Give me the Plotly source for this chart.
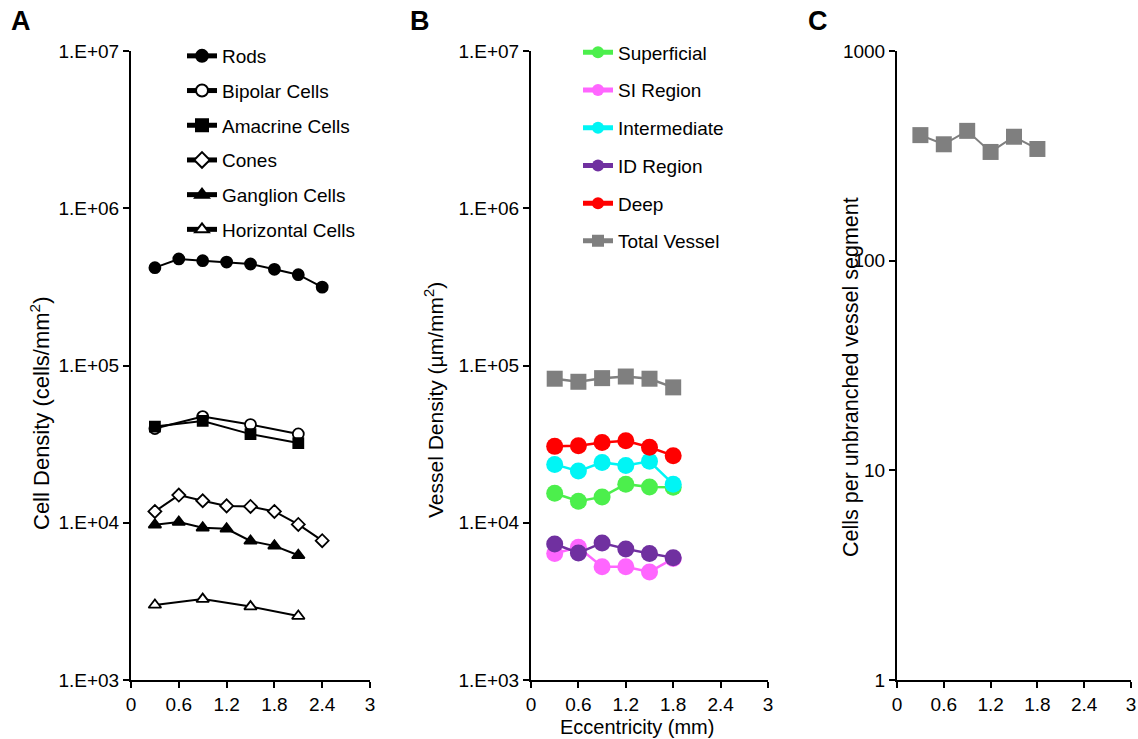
import plotly.graph_objects as go

W, H = 1138, 739

# ---------------- data ----------------
ecc8 = [0.3, 0.6, 0.9, 1.2, 1.5, 1.8, 2.1, 2.4]
ecc7 = [0.3, 0.6, 0.9, 1.2, 1.5, 1.8, 2.1]
ecc6 = [0.3, 0.6, 0.9, 1.2, 1.5, 1.8]
ecc4 = [0.3, 0.9, 1.5, 2.1]

rods = [419000, 476000, 464000, 455000, 442000, 409000, 378000, 315000]
bipolar = [39700, 47300, 42100, 36700]
amacrine = [40900, 44400, 36600, 32100]
cones = [11800, 15000, 13800, 12800, 12700, 11800, 9760, 7690]
ganglion = [9710, 10100, 9290, 9160, 7660, 7130, 6210]
horizontal = [3000, 3270, 2930, 2550]

superficial = [15400, 13700, 14600, 17600, 16900, 16800]
si_region = [6370, 6980, 5250, 5250, 4870, 5920]
intermediate = [23500, 21300, 24200, 23100, 24600, 17600]
id_region = [7330, 6430, 7440, 6820, 6370, 6000]
deep = [30600, 30900, 32400, 33200, 30200, 26700]
total_vessel = [82400, 78800, 83100, 85100, 82400, 72600]

cells_per_segment = [397, 359, 416, 330, 390, 341]

x_ticks = [0, 0.6, 1.2, 1.8, 2.4, 3]
x_tick_text = ["0", "0.6", "1.2", "1.8", "2.4", "3"]
y_ticks_ab = [1e3, 1e4, 1e5, 1e6, 1e7]
y_tick_text_ab = ["1.E+03", "1.E+04", "1.E+05", "1.E+06", "1.E+07"]
y_ticks_c = [1, 10, 100, 1000]
y_tick_text_c = ["1", "10", "100", "1000"]

FONT = "Liberation Sans, Arial, sans-serif"


def px(x):
    return x / W


def py(y):
    return 1 - y / H


fig = go.Figure()

# ---------- panel A ----------
a_series = [
    ("Rods", ecc8, rods, "circle", "black"),
    ("Bipolar Cells", ecc4, bipolar, "circle", "white"),
    ("Amacrine Cells", ecc4, amacrine, "square", "black"),
    ("Cones", ecc8, cones, "diamond", "white"),
    ("Ganglion Cells", ecc7, ganglion, "triangle-up", "black"),
    ("Horizontal Cells", ecc4, horizontal, "triangle-up", "white"),
]
a_sizes = {"circle": 11, "square": 10, "diamond": 10, "triangle-up": 11}
for i, (name, xs, ys, sym, fill) in enumerate(a_series):
    fig.add_trace(go.Scatter(
        x=xs, y=ys, name=name, mode="lines+markers",
        line=dict(color="black", width=2),
        marker=dict(symbol=sym, size=a_sizes[sym], color=fill,
                    line=dict(color="black", width=1.8)),
        xaxis="x", yaxis="y", legend="legend", legendgroup="a%d" % i,
    ))

# ---------- panel B ----------
b_series = [
    ("Superficial", superficial, "#4CEF4C", "circle"),
    ("SI Region", si_region, "#FF66FF", "circle"),
    ("Intermediate", intermediate, "#00F5F5", "circle"),
    ("ID Region", id_region, "#7030A0", "circle"),
    ("Deep", deep, "#FF0000", "circle"),
    ("Total Vessel", total_vessel, "#7F7F7F", "square"),
]
for i, (name, ys, col, sym) in enumerate(b_series):
    fig.add_trace(go.Scatter(
        x=ecc6, y=ys, name=name, mode="lines+markers",
        line=dict(color=col, width=2.5),
        marker=dict(symbol=sym, size=17 if sym == "circle" else 16, color=col),
        xaxis="x2", yaxis="y2", legend="legend2", legendgroup="b%d" % i,
    ))

# ---------- panel C ----------
fig.add_trace(go.Scatter(
    x=ecc6, y=cells_per_segment, mode="lines+markers", showlegend=False,
    line=dict(color="#7F7F7F", width=2),
    marker=dict(symbol="square", size=16, color="#7F7F7F"),
    xaxis="x3", yaxis="y3",
))

ydom = [py(680), py(51)]
axis_common = dict(showline=True, linecolor="black", linewidth=2, ticks="outside",
                   ticklen=6, tickwidth=2, tickcolor="black", showgrid=False,
                   zeroline=False, automargin=False,
                   tickfont=dict(family=FONT, size=19, color="black"))

xcommon = dict(axis_common, range=[0, 3], tickvals=x_ticks, ticktext=x_tick_text)

fig.update_layout(
    width=W, height=H,
    margin=dict(l=0, r=0, t=0, b=0, autoexpand=False),
    paper_bgcolor="white", plot_bgcolor="white",
    font=dict(family=FONT, color="black"),
    xaxis=dict(xcommon, domain=[px(131), px(370)], anchor="y"),
    yaxis=dict(axis_common, type="log", range=[3, 7], domain=ydom, anchor="x",
               tickvals=y_ticks_ab, ticktext=y_tick_text_ab),
    xaxis2=dict(xcommon, domain=[px(531), px(768)], anchor="y2"),
    yaxis2=dict(axis_common, type="log", range=[3, 7], domain=ydom, anchor="x2",
                tickvals=y_ticks_ab, ticktext=y_tick_text_ab),
    xaxis3=dict(xcommon, domain=[px(897), px(1131)], anchor="y3"),
    yaxis3=dict(axis_common, type="log", range=[0, 3], domain=ydom, anchor="x3",
                tickvals=y_ticks_c, ticktext=y_tick_text_c),
    legend=dict(x=px(182), y=py(37), xanchor="left", yanchor="top",
                font=dict(family=FONT, size=19, color="black"),
                tracegroupgap=7, itemsizing="constant", bgcolor="rgba(0,0,0,0)",
                traceorder="grouped"),
    legend2=dict(x=px(578), y=py(33.5), xanchor="left", yanchor="top",
                 font=dict(family=FONT, size=19, color="black"),
                 tracegroupgap=10, itemsizing="constant", bgcolor="rgba(0,0,0,0)",
                 traceorder="grouped"),
)

annotations = [
    dict(text="<b>A</b>", x=px(21), y=py(21)),
    dict(text="<b>B</b>", x=px(420), y=py(21)),
    dict(text="<b>C</b>", x=px(818), y=py(21)),
]
for a in annotations:
    a.update(xref="paper", yref="paper", showarrow=False, xanchor="center",
             yanchor="middle", font=dict(family=FONT, size=27, color="black"))

titles = [
    dict(text="Cell Density (cells/mm<sup>2</sup>)", x=px(40), y=py(414), textangle=-90, size=22),
    dict(text="Vessel Density (µm/mm<sup>2</sup>)", x=px(434), y=py(400), textangle=-90, size=21),
    dict(text="Cells per unbranched vessel segment", x=px(851), y=py(377), textangle=-90, size=21.5),
    dict(text="Eccentricity (mm)", x=px(637), y=py(727), textangle=0, size=20),
]
for t in titles:
    s = t.pop("size")
    t.update(xref="paper", yref="paper", showarrow=False, xanchor="center",
             yanchor="middle", font=dict(family=FONT, size=s, color="black"))

fig.update_layout(annotations=annotations + titles)

fig.write_html("out.html", config={"displayModeBar": False},
               post_script="document.body.style.margin='0px';")
